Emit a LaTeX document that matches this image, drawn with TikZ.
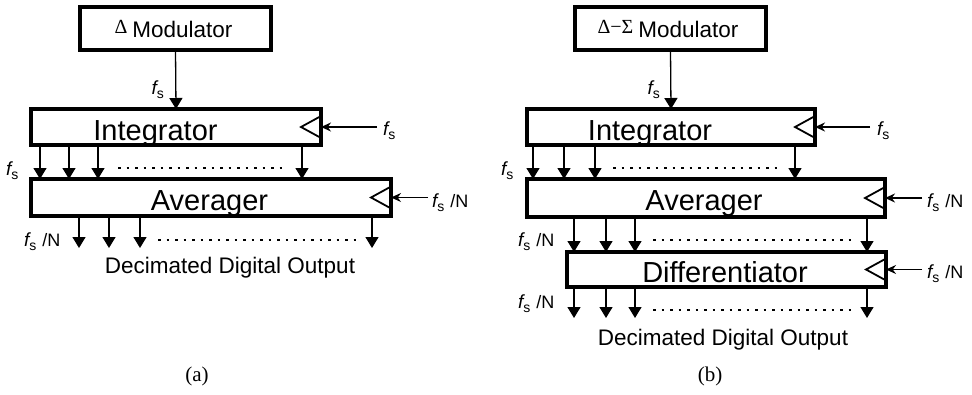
\documentclass[tikz,border=0pt]{standalone}
\usepackage{fontspec}
\setmainfont{Liberation Sans}
\newfontfamily\serf{Liberation Serif}
\usetikzlibrary{arrows.meta}
\newcommand\fsz[1]{\fontsize{#1}{#1}\selectfont}
\newcommand\fsl{{\fsz{19}\itshape f}\raisebox{-4pt}{\fsz{14}s}}
\newcommand\fsN{\fsl\hspace{6pt}{\fsz{18}/N}}
\begin{document}
\begin{tikzpicture}[x=1pt,y=-1pt,
  blk/.style={draw,line width=4pt,inner sep=0pt,outer sep=0pt},
  big/.style={inner sep=0pt,anchor=base,font=\fsz{29}},
  arr/.style={line width=1.3pt,-{Triangle[length=11pt,width=13pt]}},
  inarr/.style={line width=1.3pt,-{Stealth[length=10pt,width=9pt]}},
  tri/.style={line width=1.8pt,line join=miter},
  dotl/.style={line width=2.6pt,line cap=butt,dash pattern=on 2.6pt off 5.9pt},
  lab/.style={inner sep=0pt,anchor=base}]
\useasboundingbox (0,0) rectangle (972,394);
% ---------------- (a) ----------------
\node[blk,minimum width=191pt,minimum height=43pt] (modA) at (175.5,28.5) {};
\node[lab] (modAt) at (173.5,37) {\raisebox{4pt}{\serf\fsz{20}Δ}\hspace{5pt}{\fsz{22.5}Modulator}};
\node[blk,minimum width=290pt,minimum height=36pt] (intA) at (176,127) {};
\node[big] (intAt) at (155.5,140) {Integrator};
\node[blk,minimum width=360pt,minimum height=37pt] (avgA) at (211,197.5) {};
\node[big] (avgAt) at (209.5,210) {Averager};
\draw[tri] (322,115.5) -- (301,127) -- (322,138.5);
\draw[tri] (392,186) -- (371,197.5) -- (392,209);
\draw[arr] (modA.south) -- (intA.north);
\node[lab,anchor=base east] (fA1) at (164,94) {\fsl};
\coordinate (inA1) at (377,127);
\draw[inarr] (inA1) -- (intA.east);
\node[lab,anchor=base west] (fA2) at (383,135) {\fsl};
\coordinate (inA2) at (428,197.5);
\draw[inarr] (inA2) -- (avgA.east);
\node[lab,anchor=base west] (fA3) at (432,207) {\fsN};
\foreach \x in {40,69,98,302} \draw[arr] (intA.south -| \x,0) -- (avgA.north -| \x,0);
\draw[dotl] (118,168) -- (282,168);
\node[lab,anchor=base west] (fA4) at (6,175) {\fsl};
\coordinate (oA) at (0,248);
\foreach \x in {79,109,140,372} \draw[arr] (avgA.south -| \x,0) -- (oA -| \x,0);
\draw[dotl] (158,240) -- (360,240);
\node[lab,anchor=base west] (fA5) at (24,246) {\fsN};
\node[lab,font=\fsz{22.5}] (outA) at (230,273) {Decimated Digital Output};
\node[inner sep=0pt,font=\serf\fsz{21}] (capA) at (197,376) {(a)};
% ---------------- (b) ----------------
\node[blk,minimum width=191pt,minimum height=43pt] (modB) at (670.5,28.5) {};
\node[lab] (modBt) at (668,37) {\raisebox{4pt}{\serf\fsz{20}Δ−Σ}\hspace{5pt}{\fsz{22.5}Modulator}};
\node[blk,minimum width=288pt,minimum height=36pt] (intB) at (671,127) {};
\node[big] (intBt) at (650,140) {Integrator};
\node[blk,minimum width=358pt,minimum height=38pt] (avgB) at (706,198) {};
\node[big] (avgBt) at (704,210) {Averager};
\node[blk,minimum width=319pt,minimum height=35pt] (difB) at (726.5,269.5) {};
\node[big] (difBt) at (725,282) {Differentiator};
\draw[tri] (816,115.5) -- (795,127) -- (816,138.5);
\draw[tri] (886,186.5) -- (865,198) -- (886,209.5);
\draw[tri] (887,258) -- (866,269.5) -- (887,281);
\draw[arr] (modB.south) -- (intB.north);
\node[lab,anchor=base east] (fB1) at (660,94) {\fsl};
\coordinate (inB1) at (870,127);
\draw[inarr] (inB1) -- (intB.east);
\node[lab,anchor=base west] (fB2) at (877,135) {\fsl};
\coordinate (inB2) at (922,198);
\draw[inarr] (inB2) -- (avgB.east);
\node[lab,anchor=base west] (fB3) at (927,207) {\fsN};
\coordinate (inB3) at (922,269.5);
\draw[inarr] (inB3) -- (difB.east);
\node[lab,anchor=base west] (fB4) at (927,278) {\fsN};
\foreach \x in {533,564,595,795} \draw[arr] (intB.south -| \x,0) -- (avgB.north -| \x,0);
\draw[dotl] (613,168) -- (777,168);
\node[lab,anchor=base west] (fB5) at (501,175) {\fsl};
\foreach \x in {574,606,635,867} \draw[arr] (avgB.south -| \x,0) -- (difB.north -| \x,0);
\draw[dotl] (653,240) -- (855,240);
\node[lab,anchor=base west] (fB6) at (518,246) {\fsN};
\coordinate (oB) at (0,318);
\foreach \x in {574,606,635,867} \draw[arr] (difB.south -| \x,0) -- (oB -| \x,0);
\draw[dotl] (653,310) -- (855,310);
\node[lab,anchor=base west] (fB7) at (518,308) {\fsN};
\node[lab,font=\fsz{22.5}] (outB) at (723,345) {Decimated Digital Output};
\node[inner sep=0pt,font=\serf\fsz{21}] (capB) at (710,376) {(b)};
\end{tikzpicture}
\end{document}
